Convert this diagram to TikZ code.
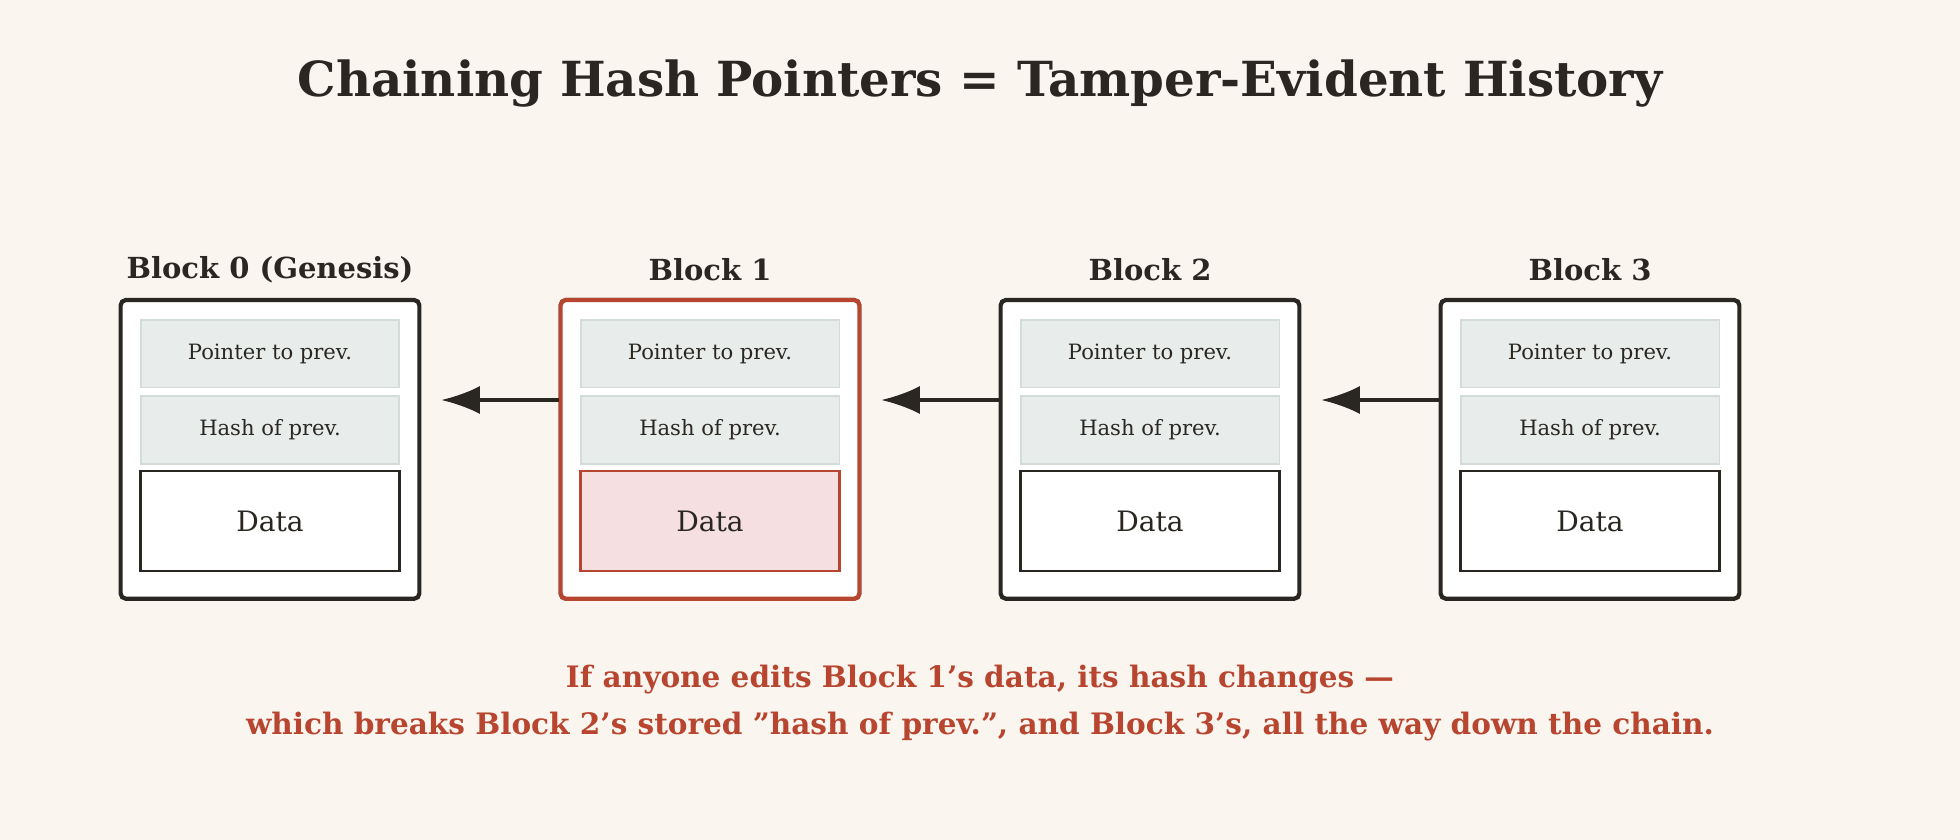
\documentclass[tikz,border=0pt]{standalone}
\usepackage{fontspec}
\setmainfont{DejaVu Serif}
\usetikzlibrary{arrows.meta}
\definecolor{bg}{HTML}{FAF6EF}
\definecolor{ink}{HTML}{2A2722}
\definecolor{redc}{HTML}{B8452F}
\definecolor{cellg}{HTML}{E8ECEA}
\definecolor{cellb}{HTML}{D3DCD9}
\definecolor{pinkc}{HTML}{F6DFE1}
\newcommand{\ap}{\symbol{39}}
\newcommand{\qq}{\symbol{34}}
\begin{document}
\begin{tikzpicture}[x=0.025cm,y=-0.025cm,
  blk/.style={draw=ink,line width=2.4pt,rounded corners=3pt,fill=white,minimum width=239*0.025cm,minimum height=239*0.025cm,inner sep=0pt},
  cell/.style={draw=cellb,line width=1pt,fill=cellg,minimum width=207*0.025cm,minimum height=54*0.025cm,inner sep=0pt,font=\fontsize{12}{14}\selectfont,text=ink},
  dat/.style={draw=ink,line width=1.4pt,fill=white,minimum width=207*0.025cm,minimum height=80*0.025cm,inner sep=0pt,font=\fontsize{16}{18}\selectfont,text=ink},
  lbl/.style={font=\bfseries\fontsize{16.5}{18}\selectfont,text=ink},
  arr/.style={draw=ink,line width=2pt,-{Latex[length=22pt,width=16pt]}}]
\fill[bg] (0,0) rectangle (1568,672);
\node[font=\bfseries\fontsize{27.5}{30}\selectfont,text=ink] (title) at (784,67) {Chaining Hash Pointers = Tamper-Evident History};
\foreach \i/\x/\name in {0/216/Block 0 (Genesis),1/568/Block 1,2/920/Block 2,3/1272/Block 3}{
  \node[blk] (b\i) at (\x,359.5) {};
  \node[lbl] (l\i) at (\x,216) {\name};
  \node[cell] (p\i) at (\x,283) {Pointer to prev.};
  \node[cell] (h\i) at (\x,344) {Hash of prev.};
  \node[dat] (d\i) at (\x,417) {Data};
}
\node[blk,draw=redc] at (b1) {};
\node[cell] at (p1) {Pointer to prev.};
\node[cell] at (h1) {Hash of prev.};
\node[dat,draw=redc,fill=pinkc] at (d1) {Data};
\coordinate (t0) at (353,320);
\coordinate (t1) at (705,320);
\coordinate (t2) at (1057,320);
\draw[arr] (b1.west |- t0) -- (t0);
\draw[arr] (b2.west |- t1) -- (t1);
\draw[arr] (b3.west |- t2) -- (t2);
\node[font=\bfseries\fontsize{16.8}{18}\selectfont,text=redc] (n1) at (784,544) {If anyone edits Block 1\ap s data, its hash changes —};
\node[font=\bfseries\fontsize{16.8}{18}\selectfont,text=redc] (n2) at (784,581) {which breaks Block 2\ap s stored \qq hash of prev.\qq, and Block 3\ap s, all the way down the chain.};
\end{tikzpicture}
\end{document}
